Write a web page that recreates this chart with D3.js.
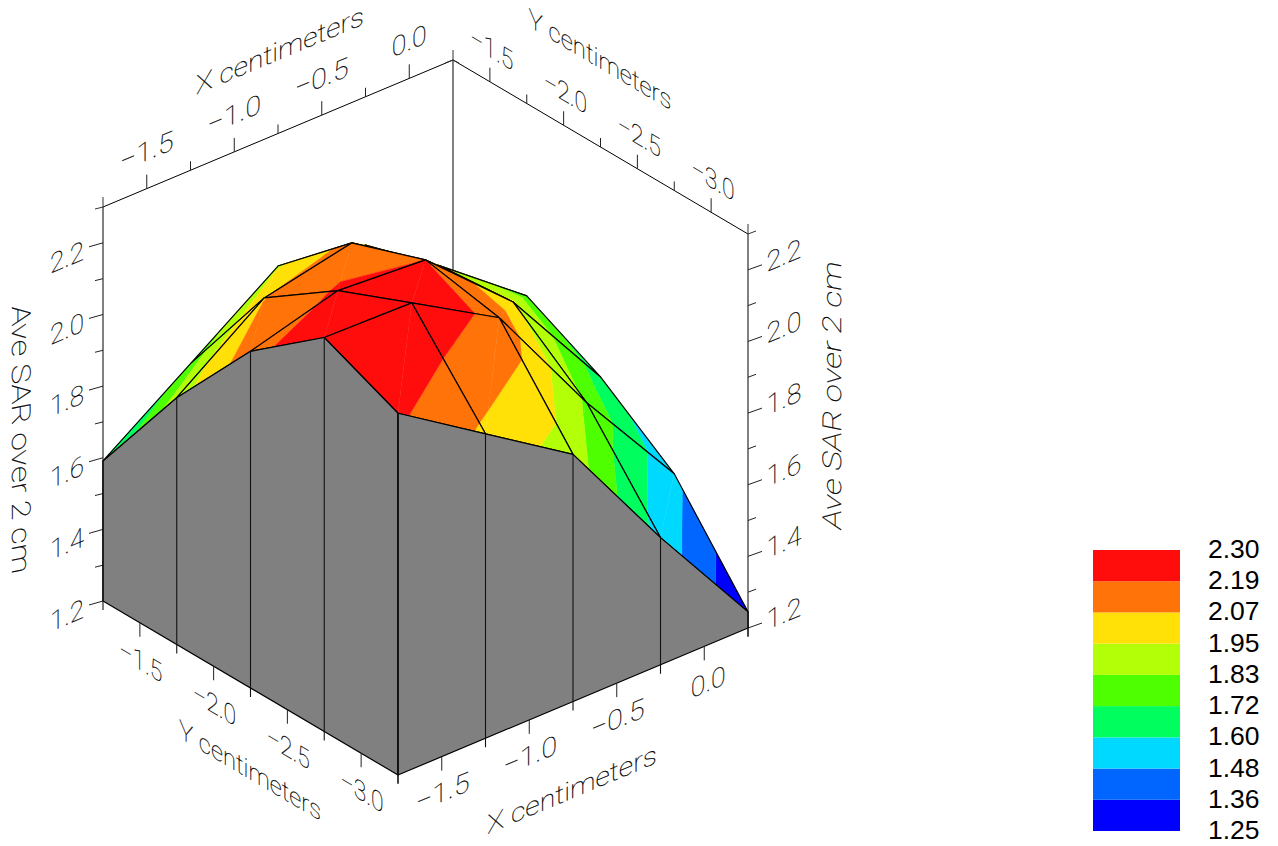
<!DOCTYPE html>
<html>
<head>
<meta charset="utf-8">
<style>
  html, body { margin: 0; padding: 0; background: #fff; }
  svg { display: block; }
  .lbl { font-family: Roboto, "Liberation Sans", sans-serif; font-weight: 100; fill: #000; stroke: #000; stroke-width: 0.2px; }
  .leg { font-family: "Liberation Sans", Arial, sans-serif; font-size: 26.5px; fill: #000; }
</style>
<script src="https://cdn.jsdelivr.net/npm/d3@7"></script>
</head>
<body>
<svg id="chart" width="1278" height="846"></svg>
<script>
// grid values
const xGrid = [-1.75, -1.25, -0.75, -0.25, 0.25];
const yGrid = [-1.25, -1.75, -2.25, -2.75, -3.25];

// Ave SAR, one row per x, one column per y
const sarRow0 = [1.591, 1.889, 2.14, 2.30, 2.21];
const sarRow1 = [1.76, 2.065, 2.207, 2.294, 2.05];
const sarRow2 = [1.93, 2.116, 2.19, 2.15, 1.89];
const sarRow3 = [1.886, 1.95, 1.97, 1.81, 1.555];
const sarRow4 = [1.708, 1.763, 1.658, 1.509, 1.245];
const sar = [sarRow0, sarRow1, sarRow2, sarRow3, sarRow4];

// ticks
const xMajor = [-1.5, -1.0, -0.5, 0.0];
const xMinor = [-1.75, -1.25, -0.75, -0.25, 0.25];
const yMajor = [-1.5, -2.0, -2.5, -3.0];
const yMinor = [-1.25, -1.75, -2.25, -2.75, -3.25];
const zMajor = [1.2, 1.4, 1.6, 1.8, 2.0, 2.2];
const zMinor = [1.3, 1.5, 1.7, 1.9, 2.1, 2.3];

// legend, low to high
const levels = [1.25, 1.36, 1.48, 1.60, 1.72, 1.83, 1.95, 2.07, 2.19, 2.30];
const bandColors = ["#0000ff", "#0066ff", "#00d9ff", "#00ff5e", "#4dff00", "#b3ff08", "#ffe108", "#ff7308", "#ff0d0d"];

const svg = d3.select("#chart");

// Oblique projection: each data axis adds its own screen offset
const xDx = d3.scaleLinear().domain([-1.75, 0.25]).range([0, 350]);
const xDy = d3.scaleLinear().domain([-1.75, 0.25]).range([0, -147]);
const yDx = d3.scaleLinear().domain([-1.25, -3.25]).range([0, 295]);
const yDy = d3.scaleLinear().domain([-1.25, -3.25]).range([0, 174]);
const zDy = d3.scaleLinear().domain([1.2, 2.3]).range([0, -394]);
const xMin = -1.75, xMax = 0.25, yNear = -3.25, yFar = -1.25, zMin = 1.2, zMax = 2.3;

const project = (x, y, z) => [103 + xDx(x) + yDx(y), 601 + xDy(x) + yDy(y) + zDy(z)];

const ux = [350 / 379.6, -147 / 379.6];   // text direction along x
const uy = [295 / 342.5, 174 / 342.5];    // text direction along y

const line = (g, a, b, stroke, width) => g.append("line")
    .attr("x1", a[0]).attr("y1", a[1]).attr("x2", b[0]).attr("y2", b[1])
    .attr("stroke", stroke).attr("stroke-width", width);

const off = (p, dx, dy) => [p[0] + dx, p[1] + dy];

const label = (text, p, dir, size, length, down) => {
    down = down || [0, 1];
    svg.append("text")
        .attr("class", "lbl")
        .attr("transform", `matrix(${dir[0]},${dir[1]},${down[0]},${down[1]},${p[0]},${p[1]})`)
        .attr("text-anchor", "middle")
        .attr("dy", "0.36em")
        .attr("font-size", size)
        .attr("textLength", length)
        .attr("lengthAdjust", "spacingAndGlyphs")
        .text(text);
};

const fmt = (v) => d3.format(".1f")(v).replace("-", "\u2212");

/* Back box: top edges and vertical axes */
const back = svg.append("g");
line(back, project(xMin, yFar, zMin), project(xMin, yFar, zMax), "#808080", 2);
line(back, project(xMax, yFar, zMin), project(xMax, yFar, zMax), "#808080", 2);
line(back, off(project(xMax, yNear, zMin), 0, 8), project(xMax, yNear, zMax), "#808080", 2);
line(back, project(xMin, yFar, zMax), project(xMax, yFar, zMax), "#000", 1);
line(back, project(xMax, yFar, zMax), project(xMax, yNear, zMax), "#000", 1);

// corner stubs on top
[[xMin, yFar], [xMax, yFar], [xMax, yNear]].forEach(c => {
    const p = project(c[0], c[1], zMax);
    line(back, p, off(p, 0, -10), "#333", 1);
});
line(back, project(xMin, yFar, zMax), off(project(xMin, yFar, zMax), -8, 2), "#333", 1);
line(back, project(xMax, yFar, zMax), off(project(xMax, yFar, zMax), -8, 3), "#333", 1);
line(back, project(xMax, yFar, zMax), off(project(xMax, yFar, zMax), 6, 3), "#333", 1);
line(back, project(xMax, yNear, zMax), off(project(xMax, yNear, zMax), 8, -3), "#333", 1);

// top ticks
xMajor.forEach(x => line(back, project(x, yFar, zMax), off(project(x, yFar, zMax), 0, -14), "#222", 1));
xMinor.slice(1, 4).forEach(x => line(back, project(x, yFar, zMax), off(project(x, yFar, zMax), 0, -9), "#222", 1));
yMajor.forEach(y => line(back, project(xMax, y, zMax), off(project(xMax, y, zMax), 0, -14), "#222", 1));
yMinor.slice(1, 4).forEach(y => line(back, project(xMax, y, zMax), off(project(xMax, y, zMax), 0, -9), "#222", 1));

// z ticks on both sides
zMajor.forEach(z => {
    const l = project(xMin, yFar, z), r = project(xMax, yNear, z);
    line(back, l, off(l, -14, 4), "#222", 1);
    line(back, r, off(r, 14, -5), "#222", 1);
});
zMinor.slice(0, 5).forEach(z => {
    const l = project(xMin, yFar, z), r = project(xMax, yNear, z);
    line(back, l, off(l, -8, 2), "#222", 1);
    line(back, r, off(r, 8, -3), "#222", 1);
});

/* Clip one triangle to a band of z */
const clipBand = (tri, lo, hi) => {
    const clip = (poly, keep, level) => {
        const out = [];
        poly.forEach((a, k) => {
            const b = poly[(k + 1) % poly.length];
            const ka = keep(a[2]), kb = keep(b[2]);
            if (ka) out.push(a);
            if (ka !== kb) {
                const t = (level - a[2]) / (b[2] - a[2]);
                out.push([a[0] + t * (b[0] - a[0]), a[1] + t * (b[1] - a[1]), level]);
            }
        });
        return out;
    };
    return clip(clip(tri, z => z >= lo, lo), z => z <= hi, hi);
};

/* Surface, painted back to front */
const surface = svg.append("g");
const pathOf = (pts) => "M" + pts.map(p => project(p[0], p[1], p[2]).join(",")).join("L") + "Z";

for (let i = xGrid.length - 2; i >= 0; i--) {
    for (let j = 0; j < yGrid.length - 1; j++) {
        const a = [xGrid[i], yGrid[j], sar[i][j]];
        const b = [xGrid[i + 1], yGrid[j], sar[i + 1][j]];
        const c = [xGrid[i + 1], yGrid[j + 1], sar[i + 1][j + 1]];
        const d = [xGrid[i], yGrid[j + 1], sar[i][j + 1]];
        [[a, b, d], [b, c, d]].forEach(tri => {
            bandColors.forEach((color, k) => {
                const lo = k === 0 ? -Infinity : levels[k];
                const hi = k === bandColors.length - 1 ? Infinity : levels[k + 1];
                const part = clipBand(tri, lo, hi);
                if (part.length > 2) {
                    surface.append("path")
                        .attr("d", pathOf(part))
                        .attr("fill", color)
                        .attr("stroke", color)
                        .attr("stroke-width", 0.4);
                }
            });
        });
        surface.append("path")
            .attr("d", pathOf([a, b, c, d]))
            .attr("fill", "none")
            .attr("stroke", "#000")
            .attr("stroke-width", 1.2)
            .attr("stroke-linejoin", "round");
    }
}

/* Grey side walls */
const walls = svg.append("g");
const leftTop = yGrid.map((y, j) => project(xMin, y, sar[0][j]));
const rightTop = xGrid.map((x, i) => project(x, yNear, sar[i][4]));
const wallPoly = leftTop.concat([project(xMin, yNear, zMin), project(xMin, yFar, zMin)]);
const wallPoly2 = rightTop.concat([project(xMax, yNear, zMin), project(xMin, yNear, zMin)]);
[wallPoly, wallPoly2].forEach(poly => {
    walls.append("polygon")
        .attr("points", poly.join(" "))
        .attr("fill", "#808080")
        .attr("stroke", "#000")
        .attr("stroke-width", 1.2)
        .attr("stroke-linejoin", "round");
});
yGrid.forEach((y, j) => line(walls, leftTop[j], off(project(xMin, y, zMin), 0, j === 4 ? 8 : 9), "#111", 1.1));
xGrid.forEach((x, i) => line(walls, rightTop[i], off(project(x, yNear, zMin), 0, 9), "#111", 1.1));
xMajor.forEach(x => line(walls, project(x, yNear, zMin), off(project(x, yNear, zMin), 0, 14), "#222", 1));
yMajor.forEach(y => line(walls, project(xMin, y, zMin), off(project(xMin, y, zMin), 0, 14), "#222", 1));

/* Tick labels */
const xLen = (x) => x === 0 ? 38 : 58;
xMajor.forEach(x => {
    label(fmt(x), off(project(x, yNear, zMin), x === 0 ? 4 : 1, 35), ux, 27, xLen(x));
    label(fmt(x), off(project(x, yFar, zMax), x === 0 ? 0 : 0, -38), ux, 27, xLen(x));
});
yMajor.forEach(y => {
    label(fmt(y), off(project(xMin, y, zMin), 1, 38), uy, 27, 50);
    label(fmt(y), off(project(xMax, y, zMax), 2, -33), uy, 27, 50);
});
zMajor.forEach(z => {
    label(z.toFixed(1), off(project(xMin, yFar, z), -36, 14), ux, 27, 37);
    label(z.toFixed(1), off(project(xMax, yNear, z), 36, -15), ux, 27, 38);
});

/* Axis titles */
label("X centimeters", [572, 789], ux, 26, 184);
label("X centimeters", [280, 50], ux, 26, 182);
label("Y centimeters", [250, 770], uy, 26, 165);
label("Y centimeters", [600, 59], uy, 26, 166);
label("Ave SAR over 2 cm", [21, 439], [0, 1], 26, 268, [-1, 0.2]);
label("Ave SAR over 2 cm", [832, 395], [0, -1], 26, 268, [1, 0.2]);

/* Legend */
const legendY = d3.scaleLinear().domain([levels.length - 1, 0]).range([550, 831]);
const legend = svg.append("g");
bandColors.forEach((color, k) => {
    legend.append("rect")
        .attr("x", 1093)
        .attr("y", legendY(k + 1))
        .attr("width", 87)
        .attr("height", legendY(k) - legendY(k + 1))
        .attr("fill", color);
});
levels.forEach((v, k) => {
    legend.append("text")
        .attr("class", "leg")
        .attr("x", 1208)
        .attr("y", legendY(k) + 8)
        .text(v.toFixed(2));
});
</script>
</body>
</html>
